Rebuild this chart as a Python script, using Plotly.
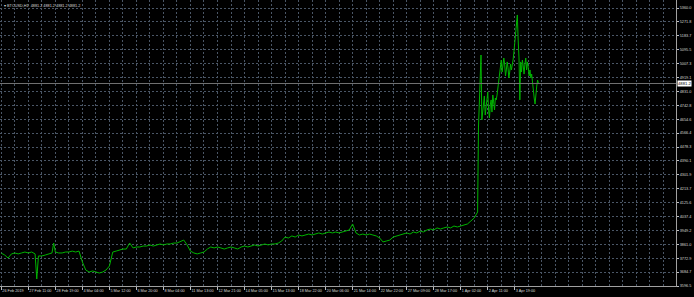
import plotly.graph_objects as go

# ---- data ----
bar_index = [0, 4, 8, 12, 16, 20, 24, 28, 32, 36, 40, 42, 44, 48, 52, 56, 60, 62, 64, 68,
             72, 76, 80, 84, 88, 92, 96, 100, 104, 108, 112, 116, 120, 124, 128, 132, 136, 140, 144, 148,
             152, 156, 160, 164, 168, 172, 176, 180, 184, 188, 192, 196, 200, 204, 208, 212, 216, 220, 224, 228,
             232, 236, 240, 244, 248, 252, 256, 260, 264, 268, 272, 276, 280, 284, 288, 292, 296, 300, 304, 308,
             312, 316, 320, 324, 328, 332, 336, 340, 344, 348, 352, 356, 360, 364, 368, 372, 376, 380, 384, 388,
             392, 396, 400, 404, 408, 412, 416, 420, 424, 428, 432, 436, 440, 444, 448, 452, 456, 460, 464, 468,
             472, 476, 480, 484, 488, 492, 496, 500, 504, 508, 512, 516, 520, 524, 528, 532, 536, 540, 544, 548,
             552, 556, 560, 562, 564, 565, 566, 567, 568, 569, 570, 571,
             572, 573, 574, 575, 576, 577, 578, 579, 580, 581, 582, 583, 584, 585, 586, 587, 588, 589, 590, 591,
             592, 593, 594, 595, 596, 597, 598, 599, 600, 601, 602, 603, 604, 605, 606, 607, 608, 609, 610, 611,
             612, 613, 614, 615, 616, 617, 618, 619, 620, 621, 622, 623, 624, 625, 626, 627, 628, 629, 630, 631,
             632, 633, 634, 635, 636]
close = [3805, 3793, 3774, 3800, 3806, 3800, 3806, 3812, 3806, 3812, 3800, 3641, 3787, 3787, 3793, 3800, 3806, 3869, 3812, 3806,
         3806, 3812, 3812, 3818, 3812, 3818, 3749, 3698, 3685, 3692, 3685, 3679, 3685, 3698, 3723, 3812, 3818, 3825, 3831, 3831,
         3869, 3838, 3844, 3844, 3850, 3850, 3857, 3850, 3857, 3863, 3857, 3863, 3863, 3869, 3869, 3876, 3888, 3857, 3818, 3806,
         3800, 3806, 3812, 3831, 3844, 3838, 3844, 3838, 3831, 3838, 3844, 3838, 3831, 3844, 3850, 3844, 3850, 3857, 3850, 3857,
         3863, 3857, 3863, 3863, 3869, 3882, 3907, 3901, 3914, 3907, 3920, 3914, 3920, 3926, 3920, 3926, 3933, 3926, 3933, 3939,
         3933, 3939, 3933, 3939, 3945, 3952, 3990, 3933, 3920, 3926, 3920, 3926, 3920, 3914, 3901, 3876, 3882, 3888, 3907, 3914,
         3920, 3926, 3933, 3926, 3939, 3933, 3945, 3939, 3952, 3958, 3952, 3965, 3958, 3965, 3971, 3965, 3977, 3971, 3977, 3984,
         3990, 4009, 4028, 4047, 4066, 4599, 4745, 4840, 5062, 4650, 4713, 4777,
         4802, 4681, 4726, 4789, 4827, 4713, 4662, 4745, 4777, 4700, 4808, 4764, 4713, 4789, 4777, 4808, 4853, 4891, 4935, 4980,
         5030, 4954, 4992, 5043, 5005, 4929, 4967, 5018, 4980, 4916, 4954, 5005, 4967, 4992, 5030, 5081, 5132, 5183, 5252, 5316,
         5157, 5043, 4777, 5018, 4954, 5030, 4992, 4941, 5005, 5043, 4967, 5018, 4980, 4929, 4967, 4916, 4941, 4878, 4840, 4789,
         4751, 4827, 4865, 4903, 4881.2]

time_labels = ["26 Feb 2019", "27 Feb 11:00", "28 Feb 19:00", "4 Mar 04:00", "5 Mar 12:00",
               "6 Mar 20:00", "8 Mar 04:00", "11 Mar 13:00", "12 Mar 21:00", "14 Mar 05:00",
               "15 Mar 13:00", "18 Mar 22:00", "20 Mar 06:00", "21 Mar 14:00", "22 Mar 22:00",
               "27 Mar 09:00", "28 Mar 17:00", "1 Apr 02:00", "2 Apr 11:00", "3 Apr 19:00"]
time_label_bars = [0, 32, 64, 96, 128, 160, 192, 224, 256, 288, 320, 352, 384, 416, 448,
                   480, 512, 544, 576, 608]
price_labels = ["5360.0", "5271.8", "5183.7", "5095.5", "5007.3", "4919.1", "4831.0",
                "4742.8", "4654.6", "4566.4", "4478.3", "4390.1", "4301.9", "4213.7",
                "4125.6", "4037.4", "3949.2", "3861.0", "3772.9", "3684.7", "3596.5"]
symbol_title = "BTCUSD,H1  4881.2 4881.2 4881.2 4881.2"
last_price = 4881.2

FONT = "Liberation Sans"
TXT = "#d8d8d8"
GRID = "#4a5666"
FS = 3.8

fig = go.Figure()
fig.add_trace(go.Scatter(x=bar_index, y=close, mode="lines",
                         line=dict(color="#00b400", width=1), hoverinfo="skip"))

fig.add_shape(type="line", xref="paper", x0=0, x1=1, yref="y", y0=last_price, y1=last_price,
              line=dict(color="#707070", width=1))

fig.add_annotation(xref="paper", x=1, xanchor="left", xshift=1, yref="y", y=last_price,
                   text=f"{last_price:.1f}", showarrow=False, bgcolor="#ffffff",
                   font=dict(family=FONT, size=FS + 0.4, color="#000000"), borderpad=0)

fig.add_annotation(xref="paper", x=0, xanchor="left", xshift=2, yref="paper", y=1, yanchor="top", yshift=-2,
                   text="\u25be " + symbol_title, showarrow=False,
                   font=dict(family=FONT, size=FS, color=TXT))

fig.update_layout(
    width=694, height=297,
    margin=dict(l=0, r=18, t=0, b=11),
    paper_bgcolor="#000000", plot_bgcolor="#000000",
    showlegend=False,
    xaxis=dict(range=[-1.54, 798.9], tickmode="array", tickvals=time_label_bars, ticktext=time_labels,
               tickangle=0,
               showgrid=True, gridcolor=GRID, griddash="2px,2px", gridwidth=1,
               minor=dict(tick0=0, dtick=16, showgrid=True, gridcolor=GRID, griddash="2px,2px", ticks=""),
               ticks="outside", ticklen=3, tickcolor="#c0c0c0",
               ticklabelposition="outside right",
               tickfont=dict(family=FONT, size=FS, color=TXT),
               showline=True, linecolor="#a0a0a0", linewidth=1, zeroline=False, mirror=False),
    yaxis=dict(side="right", range=[3596.5, 5410.9], tickmode="array",
               tickvals=[float(s) for s in price_labels], ticktext=price_labels,
               showgrid=True, gridcolor=GRID, griddash="2px,2px", gridwidth=1,
               ticks="outside", ticklen=2, tickcolor="#c0c0c0",
               tickfont=dict(family=FONT, size=FS, color=TXT),
               showline=True, linecolor="#a0a0a0", linewidth=1, zeroline=False),
)

fig.write_html("out.html")
